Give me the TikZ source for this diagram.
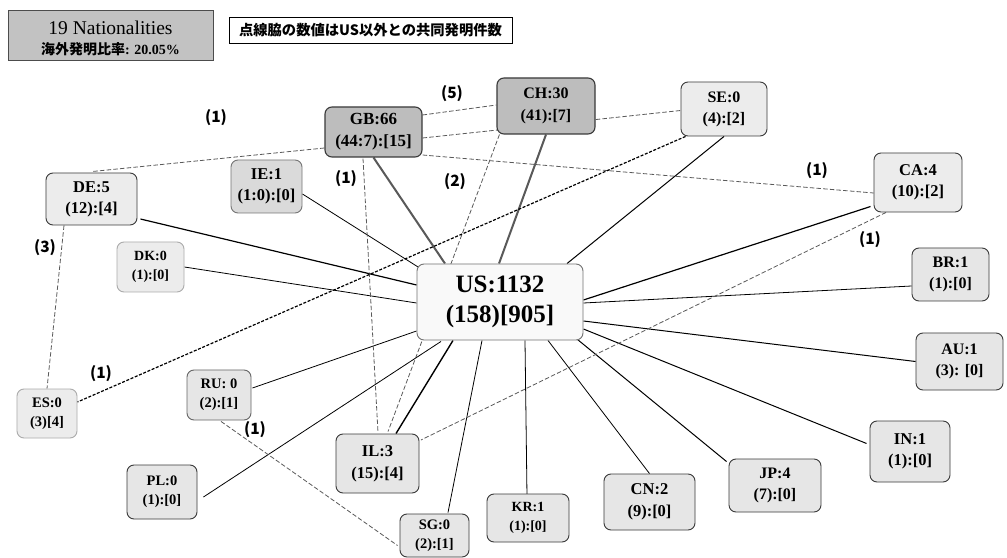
\documentclass[tikz,border=0pt]{standalone}
\usepackage{fontspec}
\setmainfont{Liberation Serif}
\newfontfamily\cjk{Noto Sans CJK JP}
\usetikzlibrary{calc}
\definecolor{gbfill}{HTML}{BDBDBD}
\definecolor{iefill}{HTML}{DADADA}
\definecolor{ltfill}{HTML}{ECECEC}
\definecolor{mdfill}{HTML}{E6E6E6}
\definecolor{usfill}{HTML}{F9F9F9}
\definecolor{dkborder}{HTML}{3A3A3A}
\definecolor{ltborder}{HTML}{ABABAB}
\definecolor{dashgray}{HTML}{5A5A5A}
\definecolor{titlefill}{HTML}{C2C2C2}
\newcommand\fz[2]{\fontsize{#1bp}{#2bp}\selectfont\bfseries}
\pgfdeclarelayer{back}
\pgfdeclarelayer{bg}
\pgfsetlayers{back,bg,main}
\tikzset{
  nbox/.style={rounded corners=7bp, align=center, inner sep=0pt, line width=0.9bp},
  ndark/.style={nbox, draw=dkborder, fill=gbfill, line width=1.1bp},
  nie/.style={nbox, draw=dkborder!70, fill=iefill},
  nlt/.style={nbox, draw=dkborder, fill=ltfill},
  nmd/.style={nbox, draw=dkborder, fill=mdfill},
  npale/.style={nbox, draw=ltborder, fill=ltfill},
  nus/.style={nbox, draw=black!55, fill=usfill},
  lbl/.style={font=\cjk\fontsize{15.5bp}{16bp}\selectfont\bfseries, inner sep=0pt},
  solid1/.style={draw=black, line width=0.8bp},
  solid2/.style={draw=black, line width=1.2bp},
  thickg/.style={draw=black!65, line width=2bp},
  dgray/.style={draw=dashgray, line width=0.8bp, dash pattern=on 4.5bp off 2.2bp},
  dblack/.style={draw=black, line width=1.2bp, dash pattern=on 3bp off 1.6bp},
}
\begin{document}
\begin{tikzpicture}[x=1bp,y=-1bp]
\useasboundingbox (0,0) rectangle (1007,558);
\begin{pgfonlayer}{back}
\fill[white] (0,0) rectangle (1007,558);
\end{pgfonlayer}

% header boxes
\node[draw=black!70, fill=titlefill, line width=0.8bp, minimum width=205bp, minimum height=50bp, inner sep=0pt, align=center, font=\fontsize{14bp}{20bp}\selectfont] (title) at (110.5,35)
  {\rule{0pt}{20bp}{\fontsize{19.5bp}{20bp}\selectfont 19 Nationalities}\\{\cjk\bfseries 海外発明比率}\bfseries: 20.05\%};
\node[draw=black, line width=0.8bp, minimum width=283bp, minimum height=26bp, inner sep=0pt] (note) at (370.5,30)
  {\cjk\bfseries\fontsize{14.3bp}{16bp}\selectfont 点線脇の数値はUS以外との共同発明件数};

% nodes
\node[nus, minimum width=166bp, minimum height=76bp, font=\fz{25}{30}] (US) at (500,302) {US:1132\\(158)[905]};
\node[ndark, minimum width=97bp, minimum height=50bp, font=\fz{17}{22}] (GB) at (373.5,132) {GB:66\\(44:7):[15]};
\node[ndark, minimum width=98bp, minimum height=56bp, font=\fz{16}{22}] (CH) at (546,106) {CH:30\\(41):[7]};
\node[nlt, minimum width=86bp, minimum height=54bp, font=\fz{16}{21}] (SE) at (724,109) {SE:0\\(4):[2]};
\node[nlt, minimum width=88bp, minimum height=59bp, font=\fz{16.5}{21}] (CA) at (918,182.5) {CA:4\\(10):[2]};
\node[nlt, minimum width=91bp, minimum height=52bp, font=\fz{16.5}{21}] (DE) at (91.5,199) {DE:5\\(12):[4]};
\node[nie, minimum width=71bp, minimum height=53bp, font=\fz{16.5}{21}] (IE) at (266.5,186.5) {IE:1\\(1:0):[0]};
\node[npale, minimum width=67bp, minimum height=50bp, font=\fz{14}{19}] (DK) at (150.5,267) {DK:0\\(1):[0]};
\node[nmd, minimum width=77bp, minimum height=53bp, font=\fz{16}{21}] (BR) at (950.5,274.5) {BR:1\\(1):[0]};
\node[nmd, minimum width=87bp, minimum height=57bp, font=\fz{16}{21}] (AU) at (959.5,361.5) {AU:1\\(3): [0]};
\node[nmd, minimum width=80bp, minimum height=61bp, font=\fz{16.5}{21}] (IN) at (910,451.5) {IN:1\\(1):[0]};
\node[nmd, minimum width=92bp, minimum height=53bp, font=\fz{16}{21}] (JP) at (775,485.5) {JP:4\\(7):[0]};
\node[nmd, minimum width=91bp, minimum height=56bp, font=\fz{16.5}{22}] (CN) at (649.5,502) {CN:2\\(9):[0]};
\node[nmd, minimum width=82bp, minimum height=48bp, font=\fz{14}{19}] (KR) at (528,518) {KR:1\\(1):[0]};
\node[nmd, minimum width=69bp, minimum height=43bp, font=\fz{14.5}{19}] (SG) at (434.5,535.5) {SG:0\\(2):[1]};
\node[nmd, minimum width=83bp, minimum height=59bp, font=\fz{16.5}{22}] (IL) at (377.5,463.5) {IL:3\\(15):[4]};
\node[nmd, minimum width=70bp, minimum height=54bp, font=\fz{14.5}{19}] (PL) at (162,492) {PL:0\\(1):[0]};
\node[nmd, draw=black!60, minimum width=64bp, minimum height=50bp, font=\fz{14.5}{19}] (RU) at (219,395) {RU: 0\\(2):[1]};
\node[npale, minimum width=60bp, minimum height=49bp, font=\fz{14.5}{19}] (ES) at (47,413.5) {ES:0\\(3)[4]};

% labels
\node[lbl] (l1) at (216,118) {(1)};
\node[lbl] (l5) at (452,94) {(5)};
\node[lbl] (lgbil) at (346,179) {(1)};
\node[lbl] (lchil) at (455,182) {(2)};
\node[lbl] (l3) at (45,248) {(3)};
\node[lbl] (lca1) at (817,171) {(1)};
\node[lbl] (lca2) at (870,240) {(1)};
\node[lbl] (les) at (101,374) {(1)};
\node[lbl] (lru) at (255,430) {(1)};

\begin{pgfonlayer}{bg}
% solid connectors
\draw[thickg] (GB.south) -- ($(US.north)+(-55,0)$);
\draw[thickg] (CH.south) -- ($(US.north)+(-1,0)$);
\draw[solid1, line width=1bp] (SE.south) -- ($(US.north)+(67,0)$);
\draw[solid2] ($(CA.west)+(-3,24)$) -- ($(US.east)+(0,-2)$);
\draw[solid1] ($(US.east)+(0,1)$) -- ($(BR.west)+(0,11.5)$);
\draw[solid1, line width=1bp] ($(US.east)+(0,19)$) -- (AU.west);
\draw[solid1, line width=1bp] ($(US.east)+(0,27)$) -- ($(IN.west)+(-3,-8)$);
\draw[solid1, line width=1bp] ($(US.south east)+(-6,-1)$) -- ($(JP.north west)+(-2,3)$);
\draw[solid1] ($(US.south)+(48,0)$) -- (CN.north);
\draw[solid1] ($(US.south)+(25,0)$) -- ($(KR.north)+(-1,3)$);
\draw[solid1] ($(US.south)+(-18,0)$) -- ($(SG.north)+(13.5,-1)$);
\draw[solid2, line width=1.4bp] ($(US.south)+(-47,0)$) -- ($(IL.north)+(18.5,0)$);
\draw[solid1] ($(US.south)+(-59,1)$) -- ($(PL.east)+(6,5)$);
\draw[solid1] ($(US.west)+(0,29)$) -- ($(RU.east)+(1,-7)$);
\draw[solid1] (DK.east) -- ($(US.west)+(0,1)$);
\draw[solid2] ($(DE.east)+(3,20)$) -- ($(US.west)+(0,-17)$);
\draw[solid1] ($(IE.east)+(0,7.5)$) -- ($(US.north west)+(4,5)$);
% dashed connectors
\draw[dgray] ($(GB.east)+(0,-17)$) -- ($(CH.west)+(0,-1)$);
\draw[dgray] ($(GB.east)+(0,6)$) -- ($(SE.west)+(0,1.5)$);
\draw[dgray] ($(GB.east)+(0,23)$) -- ($(CA.west)+(0,10.5)$);
\draw[dgray] ($(GB.west)+(0,16)$) -- ($(DE.north)+(0.5,-1)$);
\draw[dgray] ($(GB.south)+(-10.5,1)$) -- ($(IL.north)+(0.5,-1)$);
\draw[dgray] ($(CH.south west)+(3,0)$) -- ($(IL.north)+(10.5,-2)$);
\draw[dblack] ($(SE.south west)+(5,0)$) -- ($(ES.east)+(0,-11.5)$);
\draw[dgray] ($(DE.south)+(-27.5,0)$) -- (ES.north);
\draw[dgray] ($(CA.south)+(-32,0)$) -- ($(IL.east)+(1.5,-23.5)$);
\draw[dgray] ($(RU.south)+(2,1)$) -- ($(SG.west)+(-2,10)$);
\end{pgfonlayer}
\end{tikzpicture}
\end{document}
